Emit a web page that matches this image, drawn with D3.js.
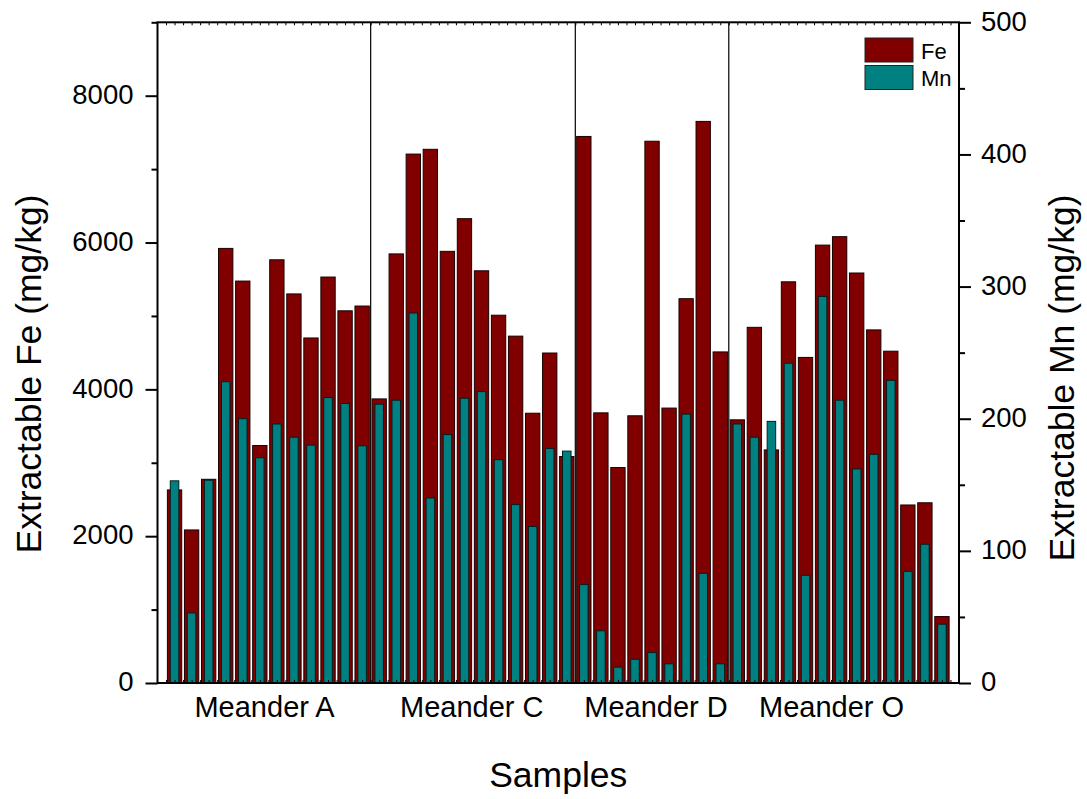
<!DOCTYPE html>
<html>
<head>
<meta charset="utf-8">
<script src="https://cdn.jsdelivr.net/npm/d3@7"></script>
<style>
  html, body { margin: 0; padding: 0; background: #fff; }
  svg { display: block; font-family: "Liberation Sans", Arial, Helvetica, sans-serif; }
</style>
</head>
<body>
<svg id="chart" width="1087" height="799"></svg>
<script>
// Sample groups (meanders) and their labels on the x axis
const groupNames = ["Meander A", "Meander C", "Meander D", "Meander O"];
// x positions (in sample-index units) of the group labels
const groupLabelPos = [6.25, 18.4, 29.2, 39.5];

// Extractable Fe (mg/kg) per sample
const feA = [2630, 2085, 2775, 5920, 5475, 3235, 5765, 5300, 4700, 5530, 5070, 5135];
const feC = [3870, 5845, 7205, 7270, 5880, 6325, 5615, 5010, 4725, 3675, 4495, 3085];
const feD = [7445, 3680, 2935, 3640, 7380, 3745, 5235, 7650, 4510];
const feO = [3585, 4845, 3175, 5465, 4435, 5965, 6080, 5585, 4810, 4520, 2425, 2455, 905];

// Extractable Mn (mg/kg) per sample
const mnA = [153, 53, 153.5, 228, 200, 170.5, 196, 186, 180, 216, 211.5, 179.5];
const mnC = [211, 214, 280, 140, 188, 215.5, 220.5, 169, 135, 118.5, 177.5, 175.5];
const mnD = [74.5, 39.5, 12, 18, 23, 14.5, 203.5, 83, 14.5];
const mnO = [196, 186, 198, 242, 81.5, 292.5, 214, 162, 173, 229, 84.5, 105, 44.5];

// Axis ticks
const feMajorTicks = [0, 2000, 4000, 6000, 8000];
const feMinorTicks = [1000, 3000, 5000, 7000, 9000];
const mnMajorTicks = [0, 100, 200, 300, 400, 500];
const mnMinorTicks = [50, 150, 250, 350, 450];

// Assemble one row per sample, numbered 1..n along the x axis
const feGroups = [feA, feC, feD, feO];
const mnGroups = [mnA, mnC, mnD, mnO];
const samples = [];
const groupEdges = [];
let idx = 0;
feGroups.forEach((fe, g) => {
  fe.forEach((v, i) => {
    idx += 1;
    samples.push({ index: idx, group: groupNames[g], fe: v, mn: mnGroups[g][i] });
  });
  if (g < feGroups.length - 1) groupEdges.push(idx + 0.5);
});
const nSamples = samples.length;

const svg = d3.select("#chart");
const plotLeft = 157.5, plotRight = 959, plotTop = 22.3, plotBottom = 683;
const FE_COLOR = "#800000", MN_COLOR = "#008080";
const TICK_FONT = 27.5, GROUP_FONT = 29, TITLE_FONT = 35.5;

const x = d3.scaleLinear().domain([0, nSamples + 1]).range([plotLeft, plotRight]);
const yFe = d3.scaleLinear().domain([0, 9000]).range([plotBottom, plotTop]);
const yMn = d3.scaleLinear().domain([0, 500]).range([plotBottom, plotTop]);

const unit = x(1) - x(0);
const feWidth = unit * 0.84;
const mnWidth = unit * 0.5;

// Group separators
svg.append("g").selectAll("line").data(groupEdges).join("line")
  .attr("x1", d => x(d)).attr("x2", d => x(d))
  .attr("y1", plotBottom).attr("y2", plotTop)
  .attr("stroke", "#000").attr("stroke-width", 1.2);

// Fe bars (left axis)
svg.append("g").selectAll("rect").data(samples).join("rect")
  .attr("x", d => x(d.index) - feWidth / 2)
  .attr("width", feWidth)
  .attr("y", d => yFe(d.fe))
  .attr("height", d => yFe(0) - yFe(d.fe))
  .attr("fill", FE_COLOR)
  .attr("stroke", "#1a0000").attr("stroke-width", 1);

// Mn bars (right axis), drawn over the Fe bars
svg.append("g").selectAll("rect").data(samples).join("rect")
  .attr("x", d => x(d.index) - mnWidth / 2)
  .attr("width", mnWidth)
  .attr("y", d => yMn(d.mn))
  .attr("height", d => yMn(0) - yMn(d.mn))
  .attr("fill", MN_COLOR)
  .attr("stroke", "#002020").attr("stroke-width", 1);

// Axes
function styleAxis(g, width) {
  g.selectAll("path.domain").remove();
  g.selectAll(".tick line").attr("stroke", "#000").attr("stroke-width", width);
}
const plain = d3.format("d");

// Left (Fe) axis
svg.append("g").attr("transform", `translate(${plotLeft},0)`)
  .call(d3.axisLeft(yFe).tickValues(feMinorTicks).tickSize(6).tickFormat(""))
  .call(g => styleAxis(g, 2));
svg.append("g").attr("transform", `translate(${plotLeft},0)`)
  .call(d3.axisLeft(yFe).tickValues(feMajorTicks).tickSize(12).tickPadding(12).tickFormat(plain))
  .call(g => styleAxis(g, 2))
  .call(g => g.selectAll("text").attr("font-size", TICK_FONT).attr("fill", "#000")
    .attr("dy", "0.28em"));

// Right (Mn) axis
svg.append("g").attr("transform", `translate(${plotRight},0)`)
  .call(d3.axisRight(yMn).tickValues(mnMinorTicks).tickSize(6).tickFormat(""))
  .call(g => styleAxis(g, 2));
svg.append("g").attr("transform", `translate(${plotRight},0)`)
  .call(d3.axisRight(yMn).tickValues(mnMajorTicks).tickSize(12).tickPadding(10).tickFormat(plain))
  .call(g => styleAxis(g, 2))
  .call(g => g.selectAll("text").attr("font-size", TICK_FONT).attr("fill", "#000")
    .attr("dy", "0.28em"));

// Small inward ticks along the top and bottom edges
const edgeTicks = d3.range(0.5, nSamples + 1, 0.5);
svg.append("g").attr("transform", `translate(0,${plotBottom})`)
  .call(d3.axisBottom(x).tickValues(edgeTicks).tickSize(-3).tickFormat(""))
  .call(g => styleAxis(g, 1));
svg.append("g").attr("transform", `translate(0,${plotTop})`)
  .call(d3.axisTop(x).tickValues(edgeTicks).tickSize(-3).tickFormat(""))
  .call(g => styleAxis(g, 1));

// Group labels under the x axis
svg.append("g").attr("transform", `translate(0,${plotBottom})`)
  .call(d3.axisBottom(x).tickValues(groupLabelPos).tickSize(0)
    .tickFormat((d, i) => groupNames[i]))
  .call(g => g.selectAll("path.domain").remove())
  .call(g => g.selectAll("text").attr("font-size", GROUP_FONT).attr("fill", "#000")
    .attr("y", 34).attr("dy", 0));

// Plot frame
svg.append("rect")
  .attr("x", plotLeft).attr("y", plotTop)
  .attr("width", plotRight - plotLeft).attr("height", plotBottom - plotTop)
  .attr("fill", "none").attr("stroke", "#000").attr("stroke-width", 2);

// Axis titles
svg.append("text")
  .attr("transform", "translate(41,374) rotate(-90)")
  .attr("text-anchor", "middle").attr("font-size", TITLE_FONT)
  .text("Extractable Fe (mg/kg)");
svg.append("text")
  .attr("transform", "translate(1074,378) rotate(-90)")
  .attr("text-anchor", "middle").attr("font-size", TITLE_FONT)
  .text("Extractable Mn (mg/kg)");
svg.append("text")
  .attr("x", (plotLeft + plotRight) / 2).attr("y", 787)
  .attr("text-anchor", "middle").attr("font-size", TITLE_FONT)
  .text("Samples");

// Legend
const legend = svg.append("g").attr("transform", "translate(865,38)");
const legendItems = [{ name: "Fe", color: FE_COLOR }, { name: "Mn", color: MN_COLOR }];
legendItems.forEach((item, i) => {
  const row = legend.append("g").attr("transform", `translate(0,${i * 27.5})`);
  row.append("rect").attr("width", 48).attr("height", 24)
    .attr("fill", item.color).attr("stroke", "#222").attr("stroke-width", 1);
  row.append("text").attr("x", 56).attr("y", 20.5)
    .attr("font-size", 22).text(item.name);
});
</script>
</body>
</html>
